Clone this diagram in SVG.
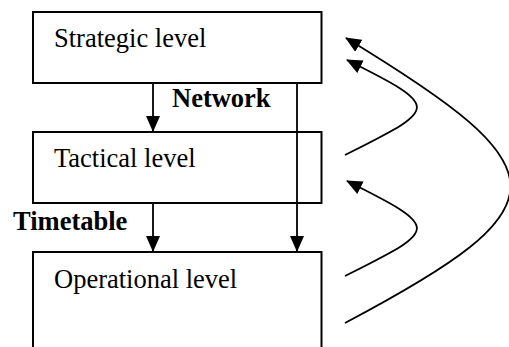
<svg xmlns="http://www.w3.org/2000/svg" width="509" height="347" viewBox="0 0 509 347">
  <defs>
    <marker id="ah" markerUnits="userSpaceOnUse" markerWidth="16" markerHeight="14" viewBox="0 0 16 14" refX="15" refY="7" orient="auto">
      <path d="M0,0 L16,7 L0,14 Z" fill="#000"/>
    </marker>
    <style>
      .box { fill: #fff; stroke: #000; stroke-width: 2; }
      .lbl { font-family: "Liberation Serif", "Times New Roman", serif; font-size: 26.5px; fill: #000; }
      .bold { font-weight: bold; }
      .con { fill: none; stroke: #000; stroke-width: 1.8; }
    </style>
  </defs>
  <rect width="509" height="347" fill="#fff"/>
  <g id="strategic">
    <rect class="box" x="33" y="12" width="288.5" height="71"/>
    <text class="lbl" x="54" y="47">Strategic level</text>
  </g>
  <g id="tactical">
    <rect class="box" x="33" y="132" width="288.5" height="71"/>
    <text class="lbl" x="54" y="167">Tactical level</text>
  </g>
  <g id="operational">
    <rect class="box" x="33" y="252" width="288.5" height="130"/>
    <text class="lbl" x="54" y="288">Operational level</text>
  </g>
  <g id="connectors">
    <line class="con" x1="153" y1="83" x2="153" y2="131" marker-end="url(#ah)"/>
    <line class="con" x1="153" y1="203" x2="153" y2="251" marker-end="url(#ah)"/>
    <line class="con" x1="297" y1="83" x2="297" y2="251" marker-end="url(#ah)"/>
    <path class="con" d="M345,155 C438,108 443,108 347,60" marker-end="url(#ah)"/>
    <path class="con" d="M345,276 C438,229 443,229 347,181" marker-end="url(#ah)"/>
    <path class="con" d="M345,323 C568,205 563,170 346,38" marker-end="url(#ah)"/>
  </g>
  <g id="labels">
    <text class="lbl bold" x="172" y="107">Network</text>
    <text class="lbl bold" x="13" y="230">Timetable</text>
  </g>
</svg>
